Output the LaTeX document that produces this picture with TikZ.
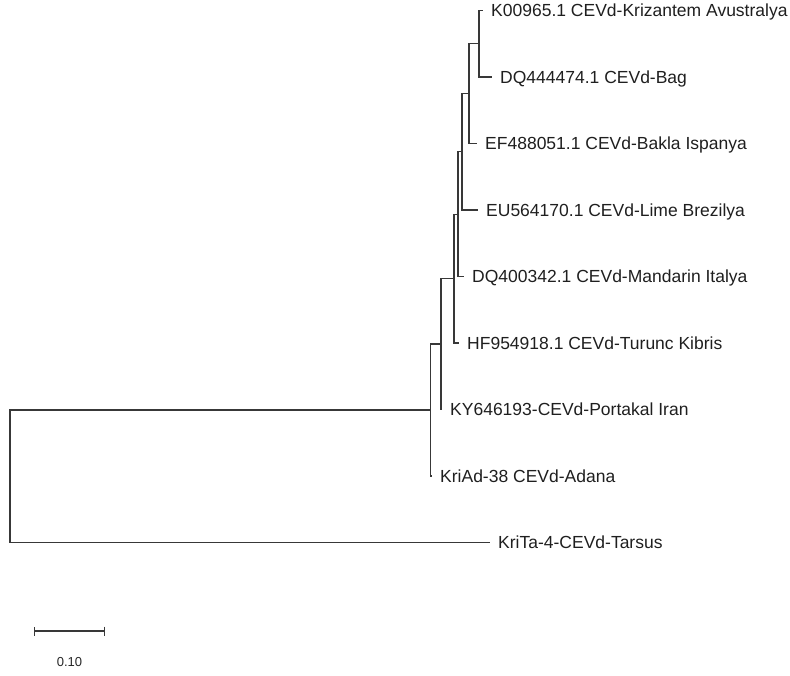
\documentclass[tikz,border=0pt]{standalone}
\usepackage{fontspec}
\setmainfont{Liberation Sans}
\usetikzlibrary{positioning,arrows.meta}

\begin{document}
\begin{tikzpicture}[
  x=1pt,y=-1pt,
  br/.style={line width=1.2pt,black!78},
  lab/.style={anchor=base west,inner sep=0pt,xshift=8pt,yshift=-6.3pt,
              font=\fontsize{17.5}{21}\selectfont,text=black!88},
  sc/.style={font=\fontsize{13}{15}\selectfont,text=black!85,inner sep=0pt}
]
\useasboundingbox (0,0) rectangle (790,675);
% ---- inner nodes of the tree ----
\coordinate (root) at (10,476.25);
\coordinate (nA) at (430.5,410);
\coordinate (nK) at (441,344);
\coordinate (nJ) at (454,278.6);
\coordinate (nI) at (458,214.2);
\coordinate (nH) at (462,151.8);
\coordinate (nG) at (469,93.6);
\coordinate (nF) at (479,43.75);
% ---- leaf tips ----
\coordinate (t1) at (483,10.5);
\coordinate (t2) at (492,77);
\coordinate (t3) at (477,143.5);
\coordinate (t4) at (478,210);
\coordinate (t5) at (464,276.5);
\coordinate (t6) at (459,343);
\coordinate (t7) at (442,409.5);
\coordinate (t8) at (432,476);
\coordinate (t9) at (490,542.5);
% ---- branches ----
\draw[br] (root) |- (nA);  \draw[br] (root) |- (t9);
\draw[br] (nA) |- (nK);    \draw[br] (nA) |- (t8);
\draw[br] (nK) |- (nJ);    \draw[br] (nK) |- (t7);
\draw[br] (nJ) |- (nI);    \draw[br] (nJ) |- (t6);
\draw[br] (nI) |- (nH);    \draw[br] (nI) |- (t5);
\draw[br] (nH) |- (nG);    \draw[br] (nH) |- (t4);
\draw[br] (nG) |- (nF);    \draw[br] (nG) |- (t3);
\draw[br] (nF) |- (t1);    \draw[br] (nF) |- (t2);
% ---- taxon names ----
\node[lab] (l1) at (t1) {K00965.1 CEVd-Krizantem Avustralya};
\node[lab] (l2) at (t2) {DQ444474.1 CEVd-Bag};
\node[lab] (l3) at (t3) {EF488051.1 CEVd-Bakla Ispanya};
\node[lab] (l4) at (t4) {EU564170.1 CEVd-Lime Brezilya};
\node[lab] (l5) at (t5) {DQ400342.1 CEVd-Mandarin Italya};
\node[lab] (l6) at (t6) {HF954918.1 CEVd-Turunc Kibris};
\node[lab] (l7) at (t7) {KY646193-CEVd-Portakal Iran};
\node[lab] (l8) at (t8) {KriAd-38 CEVd-Adana};
\node[lab] (l9) at (t9) {KriTa-4-CEVd-Tarsus};
% ---- scale bar ----
\coordinate (s1) at (34,631);
\coordinate (s2) at (105,631);
\draw[br,{Bar[width=9pt]}-{Bar[width=9pt]}] (s1) -- (s2);
\node[sc] (sl) at (69.5,662) {0.10};
\end{tikzpicture}
\end{document}
